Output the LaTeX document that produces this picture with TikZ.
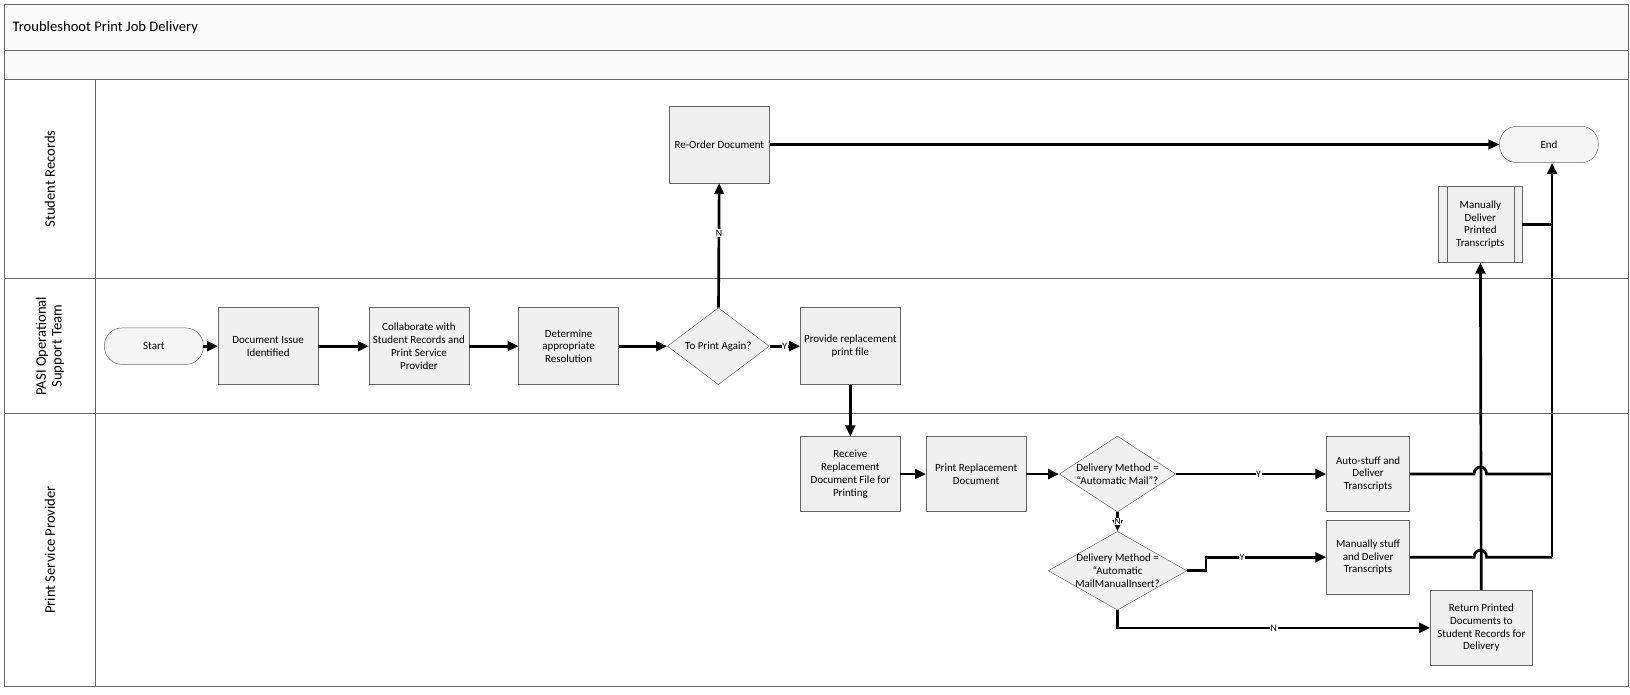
\documentclass[tikz,border=0pt]{standalone}
\usepackage{fontspec}
\setmainfont{Carlito}
\usetikzlibrary{shapes.geometric,arrows.meta}
\tikzset{
  box/.style={rectangle, draw=black!60, fill=black!6, minimum width=2.88cm, minimum height=2.22cm, align=center, inner sep=1pt, font=\fontsize{9}{10.5}\selectfont},
  term/.style={rectangle, rounded corners=0.5cm, draw=black!60, fill=black!4, minimum width=2.85cm, minimum height=1.05cm, font=\fontsize{9}{10.5}\selectfont},
  dec/.style={diamond, draw=black!60, fill=black!6, inner sep=-8pt, align=center, font=\fontsize{9}{10.5}\selectfont},
  flow/.style={line width=2.2pt, -{Triangle[length=9pt,width=8pt]}},
  line/.style={line width=2.2pt},
  lbl/.style={fill=white, inner sep=0.5pt, font=\fontsize{8}{9}\selectfont},
  lane/.style={rotate=90, align=center, font=\fontsize{12}{13}\selectfont}
}
\begin{document}
\begin{tikzpicture}[x=0.03cm, y=-0.03cm]
\path[use as bounding box] (0,0) rectangle (1568,668);
% swimlanes
\draw[black!60, line width=0.6pt] (4,4) rectangle (1566,660);
\draw[black!60, line width=0.6pt, fill=black!2] (4,4) rectangle (1566,48);
\draw[black!60, line width=0.6pt, fill=black!2] (4,48) rectangle (1566,76);
\draw[black!60, line width=0.6pt] (92,76) -- (92,660);
\draw[black!60, line width=0.6pt] (4,268) -- (1566,268);
\draw[black!60, line width=0.6pt] (4,398) -- (1566,398);
\node[anchor=west, font=\fontsize{12}{13}\selectfont](title) at (8,27){Troubleshoot Print Job Delivery};
\node[lane](laneSR) at (48,172){Student Records};
\node[lane](lanePASI) at (48,333){PASI Operational\\Support Team};
\node[lane](lanePSP) at (48,529){Print Service Provider};

% PASI lane
\node[term](start) at (148,333){Start};
\node[box](issue) at (258,333){Document Issue\\Identified};
\node[box](collab) at (403,333){Collaborate with\\Student Records and\\Print Service\\Provider};
\node[box](resol) at (547,333){Determine\\appropriate\\Resolution};
\node[dec, minimum width=2.94cm, minimum height=2.22cm](again) at (691,333){To Print Again?};
\node[box](provide) at (818,333){Provide replacement\\print file};

% Student Records lane
\node[box](reorder) at (692,139){Re-Order Document};
\node[term](end) at (1490,139){End};
\node[box, minimum width=2.4cm, minimum height=2.19cm](mandel) at (1424,216){Manually\\Deliver\\Printed\\Transcripts};
\draw[black!60] ([xshift=0.24cm]mandel.north west) -- ([xshift=0.24cm]mandel.south west);
\draw[black!60] ([xshift=-0.24cm]mandel.north east) -- ([xshift=-0.24cm]mandel.south east);

% Print Service Provider lane
\node[box, minimum height=2.16cm](receive) at (818,456){Receive\\Replacement\\Document File for\\Printing};
\node[box, minimum height=2.16cm](printrep) at (939,456){Print Replacement\\Document};
\node[dec, minimum width=3.36cm, minimum height=2.19cm](dm1) at (1075,456){Delivery Method =\\``Automatic Mail''?};
\node[dec, minimum width=4.0cm, minimum height=2.22cm](dm2) at (1075,549){Delivery Method =\\``Automatic\\MailManualInsert?};
\node[box, minimum width=2.4cm, minimum height=2.16cm](auto) at (1316,456){Auto-stuff and\\Deliver\\Transcripts};
\node[box, minimum width=2.4cm, minimum height=2.16cm](manual) at (1316,536){Manually stuff\\and Deliver\\Transcripts};
\node[box, minimum width=2.94cm, minimum height=2.16cm](return) at (1425,604){Return Printed\\Documents to\\Student Records for\\Delivery};
\coordinate(join) at (1493,536);

% connectors
\draw[flow] (start) -- (issue);
\draw[flow] (issue) -- (collab);
\draw[flow] (collab) -- (resol);
\draw[flow] (resol) -- (again);
\draw[flow] (again) -- node[lbl]{Y} (provide);
\draw[flow] (again) -- node[lbl, pos=0.6]{N} (reorder);
\draw[flow] (reorder) -- (end);
\draw[flow] (provide) -- (receive);
\draw[flow] (receive) -- (printrep);
\draw[flow] (printrep) -- (dm1);
\draw[flow] (dm1) -- node[lbl, pos=0.55]{Y} (auto);
\draw[flow] (dm1) -- node[lbl]{N} (dm2);
\draw[flow] (dm2.east) -- (1160,549) -- (1160,536) -- node[lbl, pos=0.3]{Y} (manual);
\draw[flow] (dm2.south) -- (1075,604) -- node[lbl]{N} (return);
\draw[flow] (return) -- (mandel);
\draw[line] (auto) -- (1418,456) .. controls (1418,447) and (1430,447) .. (1430,456) -- (1493,456);
\draw[line] (manual) -- (1418,536) .. controls (1418,527) and (1430,527) .. (1430,536) -- (join);
\draw[flow] (join) -- (join |- end.south);
\draw[line] (mandel) -- (1493,216);
\end{tikzpicture}
\end{document}
